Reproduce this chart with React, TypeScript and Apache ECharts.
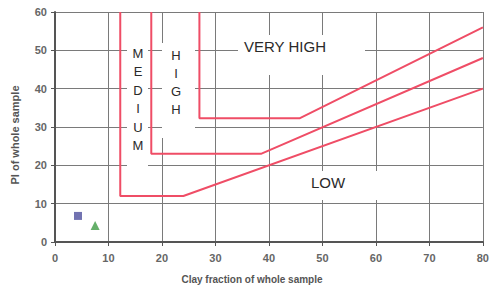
import React, { useEffect, useRef } from "react";
import * as echarts from "echarts";

// Boundary lines of the plasticity chart (clay fraction %, PI)
const lowMediumLine: [number, number][] = [[12.2, 60], [12.2, 12], [24, 12], [80, 40]];
const mediumHighLine: [number, number][] = [[18, 60], [18, 23], [38.5, 23], [80, 48]];
const highVeryHighLine: [number, number][] = [[27, 60], [27, 32.3], [45.8, 32.3], [80, 56]];
const sampleSquare: [number, number][] = [[4.3, 6.8]];
const sampleTriangle: [number, number][] = [[7.5, 4.3]];
const xTicks = { min: 0, max: 80, interval: 10 };
const yTicks = { min: 0, max: 60, interval: 10 };

const RED = "#ef4d66";
const FONT = "Liberation Sans, Arial, sans-serif";

export default function App() {
  const ref = useRef<HTMLDivElement>(null);
  useEffect(() => {
    document.body.style.margin = "0";
    const chart = echarts.init(ref.current!, null, { renderer: "svg" });
    const lineSeries = (data: [number, number][]) => ({
      type: "line",
      data,
      symbol: "none",
      lineStyle: { color: RED, width: 2 },
      z: 3,
    });
    chart.setOption({
      animation: false,
      backgroundColor: "#ffffff",
      grid: { left: 55, right: 4, top: 12, bottom: 49 },
      xAxis: {
        type: "value",
        min: xTicks.min,
        max: xTicks.max,
        interval: xTicks.interval,
        axisLine: { show: true, onZero: false, lineStyle: { color: "#555", width: 2 } },
        axisTick: { show: true, length: 4, lineStyle: { color: "#555" } },
        axisLabel: { color: "#666", fontSize: 11, fontWeight: "bold", fontFamily: FONT, margin: 10 },
        splitLine: { show: true, lineStyle: { color: "#7a7a7a", width: 1 } },
      },
      yAxis: {
        type: "value",
        min: yTicks.min,
        max: yTicks.max,
        interval: yTicks.interval,
        axisLine: { show: true, lineStyle: { color: "#555", width: 2 } },
        axisTick: { show: true, length: 4, lineStyle: { color: "#555" } },
        axisLabel: { color: "#666", fontSize: 11, fontWeight: "bold", fontFamily: FONT, margin: 8 },
        splitLine: { show: true, lineStyle: { color: "#7a7a7a", width: 1 } },
      },
      series: [
        lineSeries(lowMediumLine),
        lineSeries(mediumHighLine),
        lineSeries(highVeryHighLine),
        {
          type: "scatter",
          data: sampleSquare,
          symbol: "rect",
          symbolSize: 8,
          itemStyle: { color: "#4f509e" },
          z: 4,
        },
        {
          type: "scatter",
          data: sampleTriangle,
          symbol: "triangle",
          symbolSize: 9,
          itemStyle: { color: "#3f9b45" },
          z: 4,
        },
      ],
      graphic: [
        // white masks behind the zone labels
        { type: "rect", z: 1, shape: { x: 127, y: 42, width: 21, height: 126 }, style: { fill: "#fff" } },
        { type: "rect", z: 1, shape: { x: 162, y: 43, width: 33, height: 95 }, style: { fill: "#fff" } },
        { type: "rect", z: 1, shape: { x: 238, y: 35, width: 127, height: 40 }, style: { fill: "#fff" } },
        { type: "rect", z: 1, shape: { x: 282, y: 171, width: 116, height: 29 }, style: { fill: "#fff" } },
        {
          type: "text", z: 5, x: 138, y: 44,
          style: { text: "M\nE\nD\nI\nU\nM", fill: "#2a2a2a", font: `13px ${FONT}`, align: "center", lineHeight: 18.5 },
        },
        {
          type: "text", z: 5, x: 176, y: 46,
          style: { text: "H\nI\nG\nH", fill: "#2a2a2a", font: `13px ${FONT}`, align: "center", lineHeight: 18.2 },
        },
        {
          type: "text", z: 5, x: 285, y: 46,
          style: { text: "VERY HIGH", fill: "#2a2a2a", font: `15px ${FONT}`, align: "center", verticalAlign: "middle" },
        },
        {
          type: "text", z: 5, x: 328, y: 182,
          style: { text: "LOW", fill: "#2a2a2a", font: `15px ${FONT}`, align: "center", verticalAlign: "middle" },
        },
        {
          type: "text", z: 5, x: 252, y: 279,
          style: { text: "Clay fraction of whole sample", fill: "#555", font: `bold 10px ${FONT}`, align: "center", verticalAlign: "middle" },
        },
        {
          type: "text", z: 5, x: 15, y: 135, rotation: Math.PI / 2,
          style: { text: "PI of whole sample", fill: "#555", font: `bold 11px ${FONT}`, align: "center", verticalAlign: "middle" },
        },
      ],
    });
    return () => chart.dispose();
  }, []);
  return <div ref={ref} style={{ position: "fixed", left: 0, top: 0, width: 492, height: 291 }} />;
}
